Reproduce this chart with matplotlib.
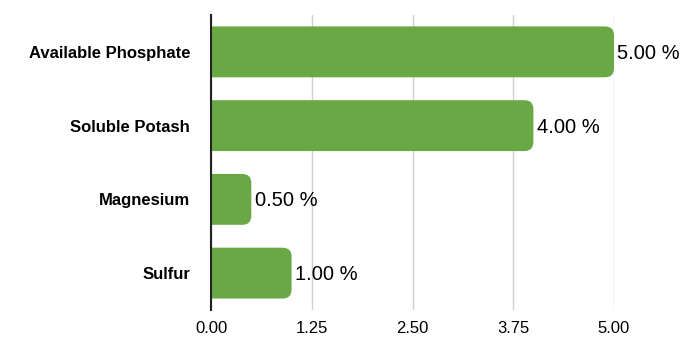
import matplotlib.pyplot as plt
from matplotlib.patches import FancyBboxPatch

categories = ['Available Phosphate', 'Soluble Potash', 'Magnesium', 'Sulfur']
values = [5.00, 4.00, 0.50, 1.00]
xticks = [0.00, 1.25, 2.50, 3.75, 5.00]

green = '#6aa845'

fig = plt.figure(figsize=(7, 3.5), dpi=100)
ax = fig.add_axes([211 / 700, 40 / 350, 403 / 700, 295 / 350])

ax.set_xlim(0, 5)
ax.set_ylim(len(categories) - 0.5, -0.5)

# pixel scale so the rounded corners look round
x_px = 403 / 5
y_px = 295 / len(categories)
aspect = x_px / y_px
r = 9 / x_px
h = 0.69

for i, v in enumerate(values):
    box = FancyBboxPatch((-0.3, i - h / 2), v + 0.3, h,
                         boxstyle=f'round,pad=0,rounding_size={r}',
                         mutation_aspect=aspect, fc=green, ec='none', zorder=2)
    ax.add_patch(box)
    ax.text(v + 0.04, i + 0.02, f'{v:.2f} %', va='center', ha='left',
            fontsize=14.5, family='Liberation Sans', clip_on=False)

ax.set_yticks(range(len(categories)))
ax.set_yticklabels(categories, fontsize=12, fontweight='bold', family='Liberation Sans')
ax.set_xticks(xticks)
ax.set_xticklabels([f'{t:.2f}' for t in xticks], fontsize=12, family='Liberation Sans')
ax.tick_params(axis='y', length=0, pad=15)
ax.tick_params(axis='x', length=0, pad=8)

ax.grid(axis='x', color='#d0d0d0', lw=1, zorder=0)
for s in ['top', 'right', 'bottom']:
    ax.spines[s].set_visible(False)
ax.spines['left'].set_linewidth(1.5)
ax.spines['left'].set_color('#222222')
ax.spines['left'].set_zorder(3)

fig.savefig('out.png', dpi=100)
